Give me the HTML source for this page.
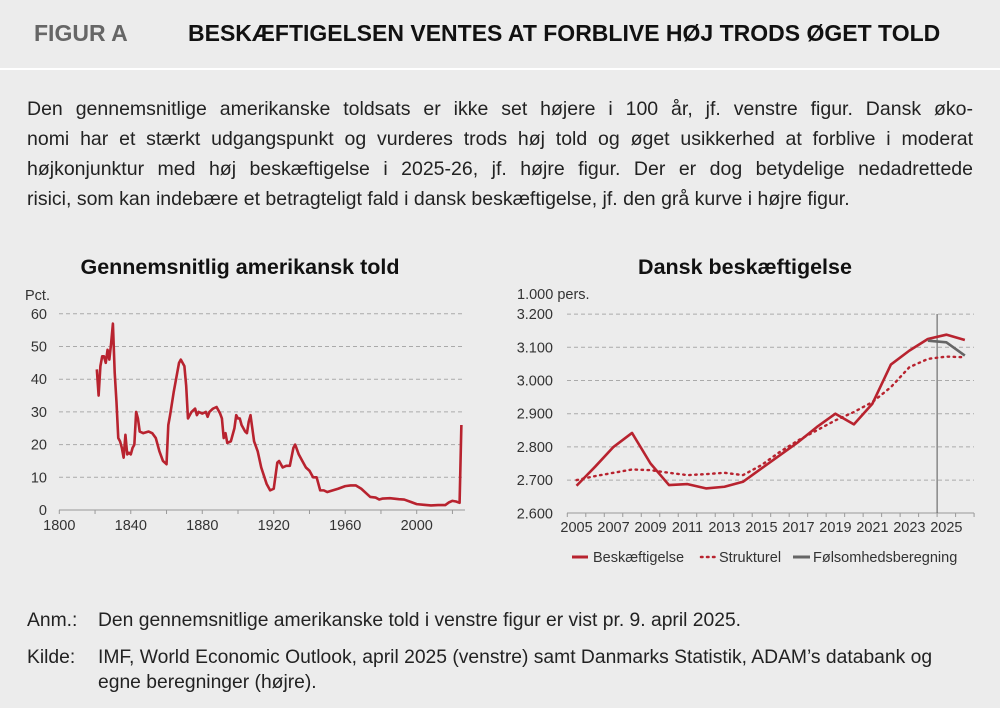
<!DOCTYPE html>
<html><head><meta charset="utf-8"><style>
body{margin:0;width:1000px;height:708px;background:#ececec;font-family:"Liberation Sans",Arial,sans-serif;position:relative;overflow:hidden;color:#222}
.abs{position:absolute}
#hdr{left:0;top:0;width:1000px;height:68px;border-bottom:2px solid #fff}
#figlab{left:34px;top:20px;font-size:23px;font-weight:bold;color:#666}
#title{left:188px;top:20px;font-size:23px;font-weight:bold;color:#111;white-space:nowrap}
#body{left:27px;top:94px;width:946px;font-size:19.5px;line-height:30px;color:#222}
#body div{text-align:justify;text-align-last:justify;white-space:nowrap}
#body div.last{text-align-last:left}
.ct{font-size:21.5px;font-weight:bold;color:#111;text-align:center}
.note{font-size:19.3px;line-height:25px;color:#222;white-space:nowrap}
</style></head><body>
<div class="abs" id="hdr"></div>
<div class="abs" id="figlab">FIGUR A</div>
<div class="abs" id="title">BESKÆFTIGELSEN VENTES AT FORBLIVE HØJ TRODS ØGET TOLD</div>
<div class="abs" id="body">
<div>Den gennemsnitlige amerikanske toldsats er ikke set højere i 100 år, jf. venstre figur. Dansk øko-</div>
<div>nomi har et stærkt udgangspunkt og vurderes trods høj told og øget usikkerhed at forblive i moderat</div>
<div>højkonjunktur med høj beskæftigelse i 2025-26, jf. højre figur. Der er dog betydelige nedadrettede</div>
<div class="last">risici, som kan indebære et betragteligt fald i dansk beskæftigelse, jf. den grå kurve i højre figur.</div>
</div>
<div class="abs ct" style="left:40px;top:255px;width:400px">Gennemsnitlig amerikansk told</div>
<div class="abs ct" style="left:545px;top:255px;width:400px">Dansk beskæftigelse</div>
<svg class="abs" style="left:0;top:0" width="1000" height="708" id="svg" font-family="Liberation Sans, Arial, sans-serif"></svg>
<div class="abs note" style="left:27px;top:608px">Anm.:</div>
<div class="abs note" style="left:98px;top:608px">Den gennemsnitlige amerikanske told i venstre figur er vist pr. 9. april 2025.</div>
<div class="abs note" style="left:27px;top:645px">Kilde:</div>
<div class="abs note" style="left:98px;top:645px;width:880px">IMF, World Economic Outlook, april 2025 (venstre) samt Danmarks Statistik, ADAM’s databank og<br>egne beregninger (højre).</div>
<script>
const tariffSeries=[[1821,43],[1822,35],[1823,44],[1824,47],[1825,47],[1826,45],[1827,49],[1828,46],[1829,51],[1830,57],[1831,42],[1832,33],[1833,22],[1834,21],[1835,19],[1836,16],[1837,23],[1838,17],[1839,17.5],[1840,17],[1841,19],[1842,20],[1843,30],[1844,28],[1845,24],[1847,23.5],[1850,24],[1852,23.5],[1854,22],[1856,18],[1858,15],[1860,14],[1861,26],[1862,29],[1864,36],[1866,42],[1867,45],[1868,46],[1869,45],[1870,44],[1871,38],[1872,28],[1873,29],[1874,30],[1876,31],[1877,29],[1878,30],[1880,29.5],[1882,30],[1883,28.5],[1884,30],[1886,31],[1888,31.5],[1890,29.5],[1891,28],[1892,22],[1893,23.5],[1894,20.5],[1896,21],[1898,25],[1899,29],[1900,28],[1901,28],[1902,26],[1904,24],[1905,23.5],[1906,27],[1907,29],[1908,25],[1909,21],[1911,18],[1913,13],[1916,8],[1918,6],[1920,6.5],[1922,14.5],[1923,15],[1925,13],[1927,13.5],[1929,13.5],[1931,19],[1932,20],[1934,17],[1936,15],[1938,13],[1940,12],[1942,10],[1944,10],[1946,6],[1948,6],[1950,5.5],[1953,6],[1956,6.5],[1960,7.3],[1963,7.5],[1966,7.5],[1969,6.5],[1972,5],[1974,4],[1977,3.8],[1979,3.2],[1981,3.5],[1985,3.6],[1990,3.3],[1993,3.2],[1997,2.4],[2000,1.8],[2004,1.6],[2008,1.4],[2012,1.5],[2016,1.5],[2018,2.3],[2020,2.8],[2022,2.6],[2024,2.2],[2025,26]];
const leftYTicks=[0,10,20,30,40,50,60];
const leftXTicks=[1800,1840,1880,1920,1960,2000];
const empYears=[2005,2006,2007,2008,2009,2010,2011,2012,2013,2014,2015,2016,2017,2018,2019,2020,2021,2022,2023,2024,2025,2026];
const employment=[2683,2740,2800,2842,2750,2685,2688,2675,2680,2695,2735,2775,2815,2860,2900,2868,2930,3048,3090,3125,3138,3122];
const structural=[2700,2712,2722,2732,2730,2722,2715,2718,2722,2715,2745,2785,2820,2850,2880,2905,2935,2980,3040,3065,3072,3070];
const sensYears=[2024,2025,2026];
const sensitivity=[3120,3115,3075];
const rightYTicks=[2600,2700,2800,2900,3000,3100,3200];
const rightYLabels=["2.600","2.700","2.800","2.900","3.000","3.100","3.200"];
const rightXLabels=[2005,2007,2009,2011,2013,2015,2017,2019,2021,2023,2025];

const svg=document.getElementById('svg');
const NS='http://www.w3.org/2000/svg';
function mk(tag,at,parent){const e=document.createElementNS(NS,tag);for(const k in at)e.setAttribute(k,at[k]);(parent||svg).appendChild(e);return e;}
const FS=14.5;
// left chart
const lx=y=>59.3+(y-1800)*1.787, ly=v=>510-v*3.27;
leftYTicks.forEach(v=>{
 if(v>0){const g=mk('line',{x1:59,x2:465,y1:ly(v),y2:ly(v),stroke:'#aaa','stroke-dasharray':'4,3','stroke-width':1});
 
 }
 const t=mk('text',{x:47,y:ly(v)+5,'font-size':FS,'text-anchor':'end',fill:'#333'});t.textContent=v;
 
 
});
let ax=mk('line',{x1:59,x2:465,y1:510,y2:510,stroke:'#999'});


for(let y=1800;y<=2020;y+=20){mk('line',{x1:lx(y),x2:lx(y),y1:510,y2:514,stroke:'#999'});}
leftXTicks.forEach(y=>{const t=mk('text',{x:lx(y),y:530,'font-size':FS,'text-anchor':'middle',fill:'#333'});t.textContent=y;
 
 });
let pct=mk('text',{x:25,y:300,'font-size':FS,fill:'#333'});pct.textContent='Pct.';


let tl=mk('polyline',{points:tariffSeries.map(p=>lx(p[0])+','+ly(p[1])).join(' '),fill:'none',stroke:'#b8232f','stroke-width':2.6,'stroke-linejoin':'round'});


// right chart
const x0=567.3,bw=18.49;
const rx=y=>x0+(y-2005+0.5)*bw, ry=v=>513.3-(v-2600)*0.332;
rightYTicks.forEach((v,i)=>{
 if(v>2600){const g=mk('line',{x1:567,x2:974,y1:ry(v),y2:ry(v),stroke:'#aaa','stroke-dasharray':'4,3'});
 
 }
 const t=mk('text',{x:553,y:ry(v)+5,'font-size':FS,'text-anchor':'end',fill:'#333'});t.textContent=rightYLabels[i];
 
 
});
let rax=mk('line',{x1:567,x2:974,y1:513,y2:513,stroke:'#999'});


for(let i=0;i<=empYears.length;i++){mk('line',{x1:x0+i*bw,x2:x0+i*bw,y1:513,y2:517,stroke:'#999'});}
rightXLabels.forEach(y=>{const t=mk('text',{x:rx(y),y:532,'font-size':FS,'text-anchor':'middle',fill:'#333'});t.textContent=y;
 
 });
let un=mk('text',{x:517,y:299,'font-size':FS,fill:'#333'});un.textContent='1.000 pers.';


let vl=mk('line',{x1:x0+20*bw,x2:x0+20*bw,y1:314,y2:513,stroke:'#555','stroke-width':1});


let sl=mk('polyline',{points:empYears.map((y,i)=>rx(y)+','+ry(structural[i])).join(' '),fill:'none',stroke:'#b8232f','stroke-width':2.4,'stroke-dasharray':'1.5,4.5','stroke-linecap':'round'});


let el=mk('polyline',{points:empYears.map((y,i)=>rx(y)+','+ry(employment[i])).join(' '),fill:'none',stroke:'#b8232f','stroke-width':2.6,'stroke-linejoin':'round'});


let fl=mk('polyline',{points:sensYears.map((y,i)=>rx(y)+','+ry(sensitivity[i])).join(' '),fill:'none',stroke:'#666','stroke-width':2.6,'stroke-linejoin':'round'});


// legend
const lg=mk('g',{});


mk('line',{x1:572,x2:588,y1:557,y2:557,stroke:'#b8232f','stroke-width':3},lg);
let t1=mk('text',{x:593,y:562,'font-size':FS,fill:'#333'},lg);t1.textContent='Beskæftigelse';


mk('line',{x1:701,x2:716,y1:557,y2:557,stroke:'#b8232f','stroke-width':2.5,'stroke-dasharray':'1.5,4.5','stroke-linecap':'round'},lg);
let t2=mk('text',{x:719,y:562,'font-size':FS,fill:'#333'},lg);t2.textContent='Strukturel';


mk('line',{x1:793,x2:810,y1:557,y2:557,stroke:'#666','stroke-width':3},lg);
let t3=mk('text',{x:813,y:562,'font-size':FS,fill:'#333'},lg);t3.textContent='Følsomhedsberegning';


</script>
</body></html>
